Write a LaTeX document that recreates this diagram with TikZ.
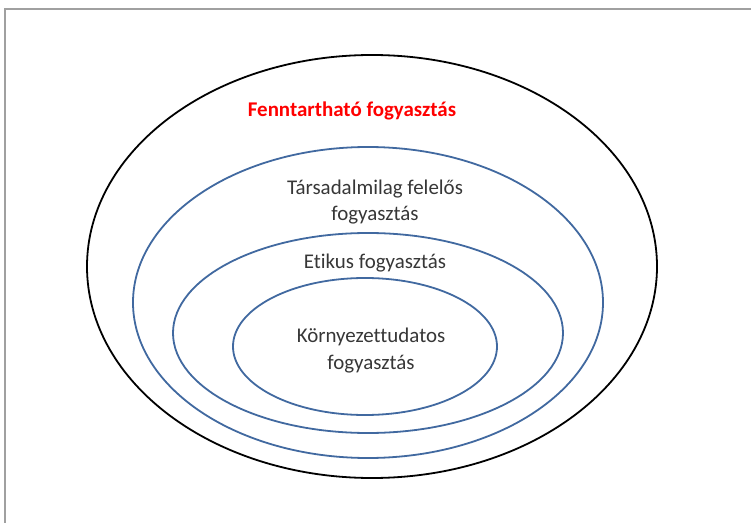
\documentclass[tikz,border=0pt]{standalone}
\usepackage{fontspec}
\setmainfont{Carlito}[RawFeature={-liga}]
\definecolor{ringblue}{RGB}{65,105,160}
\definecolor{framegray}{RGB}{160,160,160}
\definecolor{txtgray}{RGB}{55,55,55}
\begin{document}
\begin{tikzpicture}[x=1bp,y=-1bp,
  ring/.style={line width=1.8bp},
  lbl/.style={font=\fontsize{21}{26.5}\selectfont, text=txtgray, align=center, inner sep=0pt},
  title/.style={font=\fontsize{21}{26}\selectfont\bfseries, text=red, inner sep=0pt}]
\useasboundingbox (0,0) rectangle (751,523);
\fill[white] (0,0) rectangle (751,523);
% frame
\draw[framegray, line width=1.6bp] (5,523) -- (5,9) -- (751,9);
% rings
\draw[ring, black] (372,266.5) ellipse [x radius=285, y radius=211.5];
\draw[ring, ringblue] (368,302.5) ellipse [x radius=235, y radius=155.5];
\draw[ring, ringblue] (368,333) ellipse [x radius=195, y radius=100];
\draw[ring, ringblue] (365,346.5) ellipse [x radius=132, y radius=68.5];
% labels
\node[title] (fenn) at (352,111) {Fenntartható fogyasztás};
\node[lbl] (tars) at (375,202) {Társadalmilag felelős\\fogyasztás};
\node[lbl] (etik) at (375,263.5) {Etikus fogyasztás};
\node[lbl] (korn) at (371,350.5) {Környezettudatos\\fogyasztás};
\end{tikzpicture}
\end{document}
